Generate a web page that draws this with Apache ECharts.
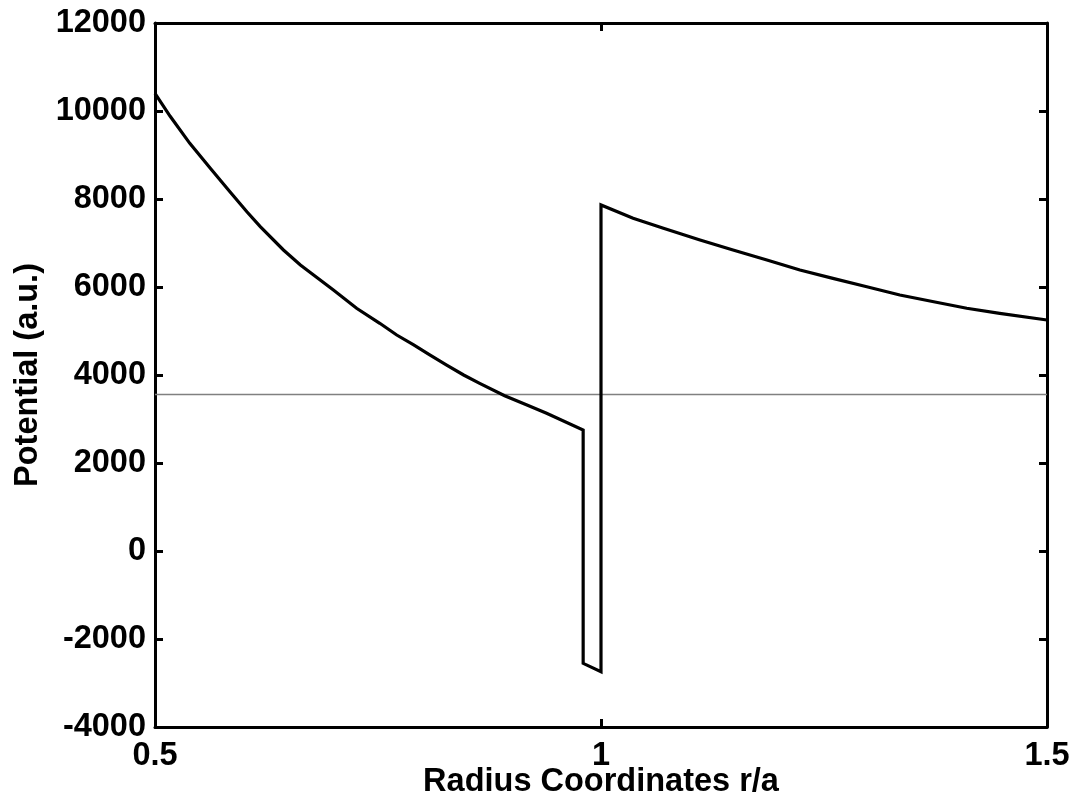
<!DOCTYPE html>
<html>
<head>
<meta charset="utf-8">
<script src="https://cdn.jsdelivr.net/npm/echarts@6/dist/echarts.min.js"></script>
<style>
html,body{margin:0;padding:0;background:#fff;}
#chart{width:1073px;height:806px;}
</style>
</head>
<body>
<div id="chart"></div>
<script>
// Radius coordinates r/a and potential values
var radius = [0.5, 0.517, 0.539, 0.562, 0.584, 0.603, 0.618, 0.644, 0.663, 0.70, 0.726, 0.752, 0.771, 0.79, 0.808, 0.827, 0.846, 0.864, 0.892, 0.917, 0.939, 0.98,
              0.98, 1.0,
              1.0, 1.036, 1.07, 1.111, 1.148, 1.186, 1.223, 1.26, 1.298, 1.335, 1.373, 1.41, 1.447, 1.5];
var potential = [10400, 9880, 9265, 8697, 8166, 7711, 7371, 6841, 6500, 5932, 5516, 5175, 4909, 4682, 4455, 4227, 4000, 3811, 3530, 3318, 3129, 2750,
                 -2553, -2742,
                 7864, 7561, 7334, 7068, 6841, 6614, 6386, 6197, 6007, 5818, 5666, 5516, 5402, 5250];
// thin gray reference level
var refX = [0.5, 1.5];
var refY = [3557, 3557];
var xTicks = [0.5, 1, 1.5];
var yTicks = [-4000, -2000, 0, 2000, 4000, 6000, 8000, 10000, 12000];

var FONT = "'Liberation Sans', Arial, sans-serif";
var curve = radius.map(function (r, i) { return [r, potential[i]]; });
var ref = refX.map(function (r, i) { return [r, refY[i]]; });

var axisLine = { show: true, onZero: false, lineStyle: { color: '#000', width: 3 } };
var tick = { show: true, inside: true, length: 8, lineStyle: { color: '#000', width: 3 } };
var lbl = { fontFamily: FONT, fontWeight: 'bold', fontSize: 32.5, color: '#000' };
var plain = function (v) { return String(v); };

var chart = echarts.init(document.getElementById('chart'), null, { renderer: 'canvas' });
chart.setOption({
  animation: false,
  backgroundColor: '#fff',
  grid: { left: 155, right: 26, top: 23, bottom: 79, containLabel: false, outerBoundsMode: 'none' },
  xAxis: [{
    type: 'value', position: 'bottom',
    min: xTicks[0], max: xTicks[xTicks.length - 1], interval: 0.5,
    axisLine: axisLine, axisTick: tick, splitLine: { show: false },
    axisLabel: Object.assign({ margin: 13, formatter: plain }, lbl),
    name: 'Radius Coordinates r/a', nameLocation: 'middle', nameGap: 39, nameMoveOverlap: false,
    nameTextStyle: lbl
  }, {
    type: 'value', position: 'top',
    min: xTicks[0], max: xTicks[xTicks.length - 1], interval: 0.5,
    axisLine: axisLine, axisTick: tick, splitLine: { show: false },
    axisLabel: { show: false }
  }],
  yAxis: [{
    type: 'value', position: 'left',
    min: yTicks[0], max: yTicks[yTicks.length - 1], interval: 2000,
    axisLine: axisLine, axisTick: tick, splitLine: { show: false },
    axisLabel: Object.assign({ margin: 9, formatter: plain }, lbl),
    name: 'Potential (a.u.)', nameLocation: 'middle', nameGap: 110, nameMoveOverlap: false,
    nameTextStyle: lbl
  }, {
    type: 'value', position: 'right',
    min: yTicks[0], max: yTicks[yTicks.length - 1], interval: 2000,
    axisLine: axisLine, axisTick: tick, splitLine: { show: false },
    axisLabel: { show: false }
  }],
  series: [{
    type: 'line', data: ref, xAxisIndex: 0, yAxisIndex: 0,
    showSymbol: false, symbol: 'none',
    lineStyle: { color: '#808080', width: 1.5 }, z: 2
  }, {
    type: 'line', data: curve, xAxisIndex: 0, yAxisIndex: 0,
    showSymbol: false, symbol: 'none',
    lineStyle: { color: '#000', width: 3.2, join: 'miter' }, z: 3
  }]
});
</script>
</body>
</html>
